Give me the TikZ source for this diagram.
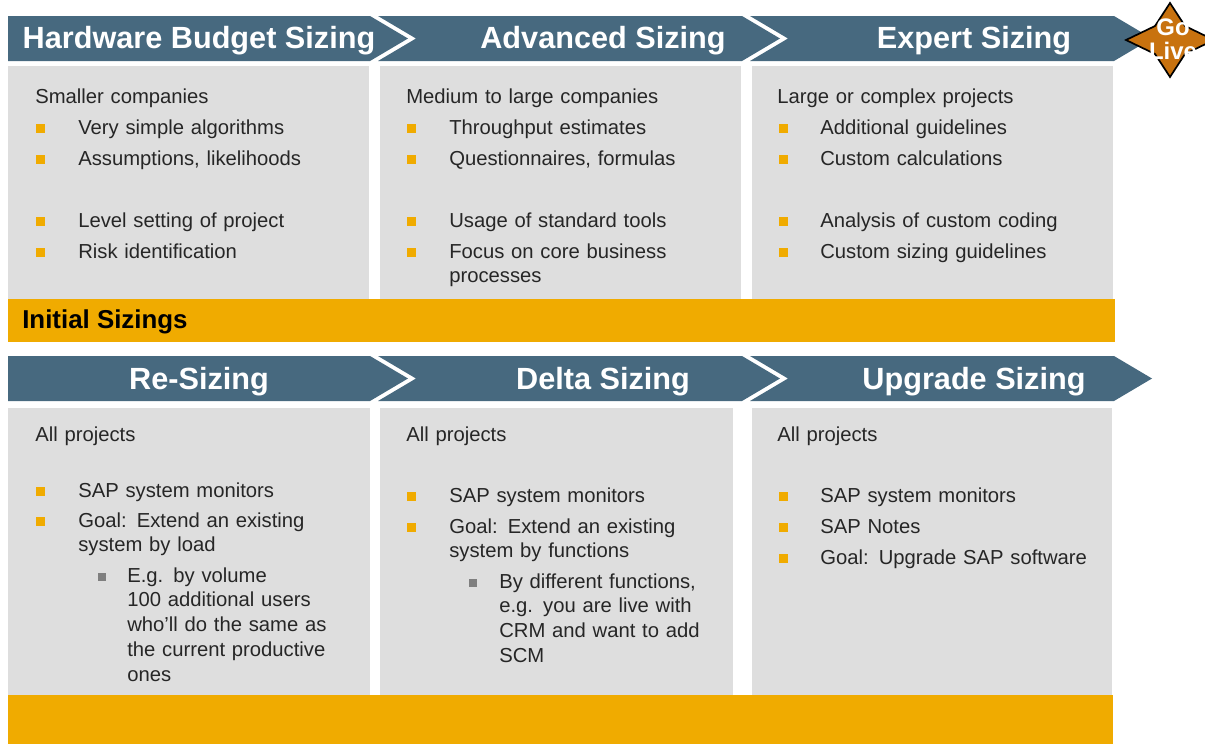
\documentclass[tikz,border=0pt]{standalone}
\usepackage{fontspec}
\setmainfont{Liberation Sans}
\usetikzlibrary{calc}
\definecolor{banner}{HTML}{47697F}
\definecolor{panel}{HTML}{DEDEDE}
\definecolor{sapgold}{HTML}{F0AB00}
\definecolor{golive}{HTML}{C8720F}
\definecolor{subbullet}{HTML}{7F7F7F}
\definecolor{bodytext}{HTML}{262626}

\tikzset{
  head/.style={text=white, inner sep=0, font=\fontsize{21.8}{26}\selectfont\bfseries},
  body/.style={anchor=base west, inner sep=0, text width=8cm, align=left, text=bodytext,
    font=\fontsize{14.4}{17.6}\selectfont},
  bar/.style={anchor=west, inner sep=0, text=black, font=\fontsize{18.4}{22}\selectfont\bfseries},
  golabel/.style={text=white, inner sep=0, align=center, font=\fontsize{17}{17}\selectfont\bfseries}
}

\begin{document}
\begin{tikzpicture}[x=0.025cm, y=-0.025cm]
\useasboundingbox (0,0) rectangle (1205,744);

%draw header arrows
\foreach \r in {0,340}{
  \fill[banner] (8,16+\r) -- (370,16+\r) -- (408,38.5+\r) -- (370,61+\r) -- (8,61+\r) -- cycle;
  \foreach \x in {378,750}
    \fill[banner] (\x,16+\r) -- (\x+364,16+\r) -- (\x+402,38.5+\r) -- (\x+364,61+\r)
      -- (\x,61+\r) -- (\x+38,38.5+\r) -- cycle;
}

%draw panels
\foreach \a/\b in {8/369,380/741,752/1113}
  \fill[panel] (\a,66) rectangle (\b,299);
\foreach \a/\b in {8/370,380/733,752/1112}
  \fill[panel] (\a,408) rectangle (\b,695);
\fill[sapgold] (8,299) rectangle (1115,342);
\fill[sapgold] (8,695) rectangle (1113,744);

%go live
\filldraw[fill=golive, draw=black, line width=1.2pt] (1170,3) -- (1185,26) -- (1214,40) -- (1185,54)
  -- (1170,77) -- (1155,54) -- (1126,40) -- (1155,26) -- cycle;
\node[golabel] (golive) at (1173,39) {Go\\Live};

%header labels
\node[head] (hw) at (199,41) {Hardware Budget Sizing};
\node[head] (adv) at (603,41) {Advanced Sizing};
\node[head] (exp) at (974,41) {Expert Sizing};
\node[head] (resize) at (199,382) {Re-Sizing};
\node[head] (delta) at (603,382) {Delta Sizing};
\node[head] (upgrade) at (974,382) {Upgrade Sizing};
\node[bar] (initial) at (22,322) {Initial Sizings};

%bullets
\foreach \x/\y in {40/128,40/159,40/221,40/252,411/128,411/159,411/221,411/252,
  783/128,783/159,783/221,783/252,40/491,40/521,411/496,411/527,783/496,783/527,783/558}
  \fill[sapgold] (\x-4.5,\y-4.5) rectangle ++(9,9);
\foreach \x/\y in {102/577,473/583}
  \fill[subbullet] (\x-4,\y-4) rectangle ++(8,8);

%top row texts
\node[body] (small) at (35,103) {Smaller companies};
\node[body] (medium) at (406,103) {Medium to large companies};
\node[body] (large) at (777,103) {Large or complex projects};
\foreach \y/\t [count=\i] in {134/Very simple algorithms,165/{Assumptions, likelihoods},
  227/Level setting of project,258/Risk identification}
  \node[body] (hb\i) at (78,\y) {\t};
\foreach \y/\t [count=\i] in {134/Throughput estimates,165/{Questionnaires, formulas},
  227/Usage of standard tools,258/{Focus on core business\\processes}}
  \node[body] (adv\i) at (449,\y) {\t};
\foreach \y/\t [count=\i] in {134/Additional guidelines,165/Custom calculations,
  227/Analysis of custom coding,258/Custom sizing guidelines}
  \node[body] (exp\i) at (820,\y) {\t};

%bottom row texts
\node[body] (allre) at (35,441) {All projects};
\node[body] (alldelta) at (406,441) {All projects};
\node[body] (allup) at (777,441) {All projects};
\foreach \y/\t [count=\i] in {497/SAP system monitors,527/{Goal: Extend an existing\\system by load}}
  \node[body] (re\i) at (78,\y) {\t};
\node[body] (resub) at (127,582) {E.g. by volume\\100 additional users\\who'll do the same as\\the current productive\\ones};
\foreach \y/\t [count=\i] in {502/SAP system monitors,533/{Goal: Extend an existing\\system by functions}}
  \node[body] (delta\i) at (449,\y) {\t};
\node[body] (deltasub) at (499,588) {By different functions,\\e.g. you are live with\\CRM and want to add\\SCM};
\foreach \y/\t [count=\i] in {502/SAP system monitors,533/SAP Notes,564/Goal: Upgrade SAP software}
  \node[body] (up\i) at (820,\y) {\t};
\end{tikzpicture}
\end{document}
